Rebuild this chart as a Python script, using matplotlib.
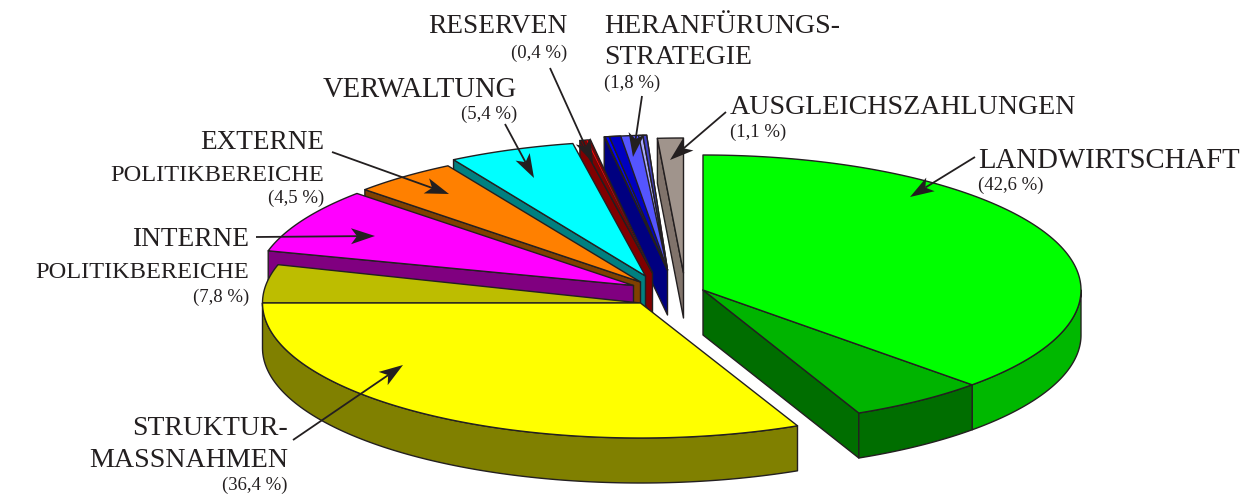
import numpy as np
import matplotlib
matplotlib.use("Agg")
import matplotlib.pyplot as plt
from matplotlib.patches import Polygon

# ---- data ----
categories = ["LANDWIRTSCHAFT", "STRUKTURMASSNAHMEN", "INTERNE POLITIKBEREICHE",
              "EXTERNE POLITIKBEREICHE", "VERWALTUNG", "RESERVEN",
              "HERANFÜRUNGSSTRATEGIE", "AUSGLEICHSZAHLUNGEN"]
shares = [42.6, 36.4, 7.8, 4.5, 5.4, 0.4, 1.8, 1.1]
label_lines = [["LANDWIRTSCHAFT"], ["STRUKTUR-", "MASSNAHMEN"],
               ["INTERNE", "POLITIKBEREICHE"], ["EXTERNE", "POLITIKBEREICHE"],
               ["VERWALTUNG"], ["RESERVEN"], ["HERANFÜRUNGS-", "STRATEGIE"],
               ["AUSGLEICHSZAHLUNGEN"]]

# ---- style / layout ----
INK = "#231f20"
W, H = 1251, 499
RX, RY, DEPTH = 378.0, 135.0, 45.0
CENTER = np.array([640.5, 303.0])
explode = [(62.5, -13), (0, 0), (-7, -17.5), (0, -21), (5, -27), (12, -30), (27, -33), (43, -30)]
angle_shift = [0, 2.1, 0.5, 0.7, 0.8, 0.8, 0.8, 0]
span_extra = [2.3, 0, 0, 0, 0, 0.2, 0, 0]
top_col = ["#00ff00", "#ffff00", "#ff00ff", "#ff8000", "#00ffff", "#800000", "#5555ff", "#a0948c"]
wall_col = ["#006e00", "#808000", "#800080", "#804000", "#008080", "#800000", "#000080", "#80736b"]
text_pos = [(978, 168, "left", 32), (288, 435, "right", 32), (249, 246, "right", 32),
            (324, 149, "right", 32), (517, 97, "right", 32), (567, 33, "right", 32),
            (604, 33, "left", 31), (730, 114, "left", 32)]
line_size = {"LANDWIRTSCHAFT": 20.7, "STRUKTUR-": 20.0, "MASSNAHMEN": 20.2, "INTERNE": 19.7,
             "POLITIKBEREICHE": 17.6, "EXTERNE": 19.6, "VERWALTUNG": 20.6, "RESERVEN": 19.7,
             "HERANFÜRUNGS-": 20.2, "STRATEGIE": 20.0, "AUSGLEICHSZAHLUNGEN": 20.2}
share_gap = [22, 23, 24, 22, 22, 25, 24, 23]
arrows = [((975, 157), (910, 197)), ((293, 440), (403, 365)), ((256, 237), (375, 236)),
          ((332, 152), (449, 194)), ((505, 124), (534, 178)), ((550, 68), (593, 163)),
          ((642, 96), (633, 157)), ((726, 112), (670, 160))]
FS_SMALL = 13.5

plt.rcParams["font.family"] = ["Liberation Serif", "DejaVu Serif"]
fig = plt.figure(figsize=(W / 100, H / 100), dpi=100)
ax = fig.add_axes([0, 0, 1, 1])
ax.set_xlim(0, W); ax.set_ylim(H, 0); ax.axis("off")


def rim(c, t0, t1, n=120):
    t = np.radians(np.linspace(t0, t1, n))
    return np.column_stack([c[0] + RX * np.sin(t), c[1] - RY * np.cos(t)])


def poly(pts, fc, z, lw=1.0):
    ax.add_patch(Polygon(pts, closed=True, fc=fc, ec=INK, lw=lw, joinstyle="round", zorder=z))


def wedge(c, t0, t1, fc, z, lw=1.0):
    poly(np.vstack([c, rim(c, t0, t1)]), fc, z, lw)


def outer_wall(c, t0, t1, fc, z):
    r = rim(c, t0, t1)
    poly(np.vstack([r, r[::-1] + [0, DEPTH]]), fc, z)


def face(c, t, fc, z):
    p = rim(c, t, t, 1)[0]
    poly([c, p, p + [0, DEPTH], c + [0, DEPTH]], fc, z)


# angular extents from the values
cum = np.concatenate([[0], np.cumsum(shares)]) * 3.6
starts = cum[:-1] + np.array(angle_shift)
ends = cum[1:] + np.array(angle_shift) + np.array(span_extra)
centers = [CENTER + np.array(e) for e in explode]

# back to front, right-most small slices first
z = 2
for i in [7, 6, 5, 4, 3, 2]:
    c = centers[i]
    face(c, starts[i], wall_col[i], z)
    wedge(c, starts[i], ends[i], top_col[i], z + 0.1)
    if i == 6:
        s, e = starts[i], ends[i]
        for f0, f1, col in [(0.02, 0.12, "#0000ff"), (0.12, 0.39, "#0000c0"),
                            (0.81, 0.91, "#a9a9ff"), (0.91, 1.0, "#4040c8")]:
            wedge(c, s + (e - s) * f0, s + (e - s) * f1, col, z + 0.2)
    if i == 5:
        s, e = starts[i], ends[i]
        wedge(c, s + (e - s) * 0.55, s + (e - s) * 0.75, "#ff0000", z + 0.2, lw=0.4)
    z += 1

# structural measures: split at the left extreme
c = centers[1]
outer_wall(c, starts[1], 270, wall_col[1], 20)
wedge(c, 270, ends[1], "#bdbd00", 20.5)
wedge(c, starts[1], 270, top_col[1], 21)

# agriculture: shaded sector toward its end
c = centers[0]
BREAK = 134.6
face(c, ends[0], wall_col[0], 22)
outer_wall(c, 90, BREAK, "#00b800", 22)
outer_wall(c, BREAK, ends[0], wall_col[0], 22)
wedge(c, BREAK, ends[0], "#00b400", 23)
wedge(c, starts[0], BREAK, top_col[0], 23)

# labels
for i, (x, y, ha, lead) in enumerate(text_pos):
    for j, line in enumerate(label_lines[i]):
        ax.text(x, y + j * lead, line, ha=ha, va="baseline", fontsize=line_size[line],
                color=INK, zorder=40)
    yy = y + (len(label_lines[i]) - 1) * lead + share_gap[i]
    ax.text(x, yy, f"({shares[i]:.1f} %)".replace(".", ","), ha=ha, va="baseline",
            fontsize=FS_SMALL, color=INK, zorder=40)

# leader arrows with barbed heads
for (a, b) in arrows:
    a, b = np.array(a, float), np.array(b, float)
    u = (b - a) / np.hypot(*(b - a))
    n = np.array([-u[1], u[0]])
    L, HW, N = 24.0, 8.0, 18.0
    ax.plot([a[0], (b - u * N)[0]], [a[1], (b - u * N)[1]], color=INK, lw=1.3, zorder=30,
            solid_capstyle="butt")
    ax.add_patch(Polygon([b, b - u * L + n * HW, b - u * N, b - u * L - n * HW], closed=True,
                         fc=INK, ec="none", zorder=31))

fig.savefig("out.png", dpi=100, facecolor="white")
